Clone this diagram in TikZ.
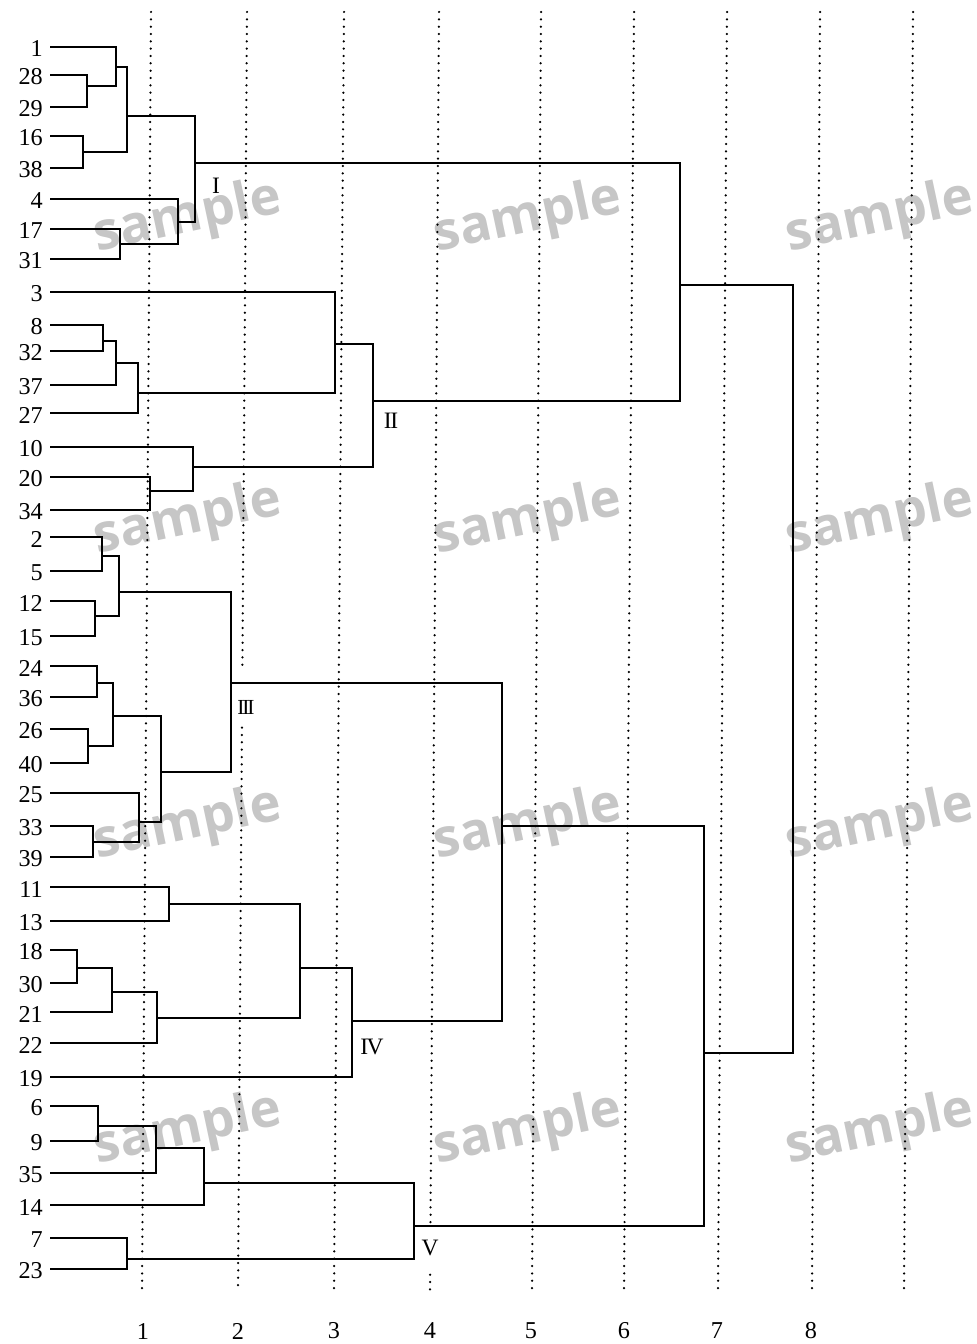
\documentclass[tikz,border=0pt]{standalone}
\usepackage{fontspec}
\usepackage{xcolor}
\usepackage{tikz}
\usetikzlibrary{calc}
\setmainfont{Liberation Serif}
\newfontfamily\wmfont{Open Sans}
\definecolor{wmGray}{HTML}{c6c6c6}

\begin{document}
\begin{tikzpicture}[
  x=0.254mm, y=-0.254mm,
  font=\fontsize{17.5}{21}\selectfont,
  leaf/.style={anchor=east, inner sep=0pt},
  link/.style={line width=1.35pt},
  grid/.style={line width=1.8pt, line cap=round, dash pattern=on 0pt off 5.3pt},
  clus/.style={inner sep=0pt, font=\fontsize{17}{20}\selectfont},
  axlbl/.style={inner sep=0pt},
  wm/.style={text=wmGray, font=\wmfont\bfseries\fontsize{38}{40}\selectfont, rotate=12, inner sep=0pt},
]
\useasboundingbox (0,0) rectangle (976,1344);
% watermark
\foreach \wy in {218,520,825,1130}
  \foreach \wx in {188,528,880}
    \node[wm] (wm\wx\wy) at (\wx,\wy) {sample};
% dotted scale lines (slightly skewed, as scanned)
\foreach \xt/\xb [count=\g] in {151/142,247/238,344/334,439/430,541/532,634/624,727/718,820/812,913/904} {
  \coordinate (gt\g) at (\xt,12);
  \coordinate (gb\g) at (\xb,1290);
}
\foreach \g in {1,3,5,6,7,8,9}
  \draw[grid] (gt\g) -- (gb\g);
\draw[grid] (gt2) -- ($(gt2)!0.516!(gb2)$) ($(gt2)!0.560!(gb2)$) -- (gb2);
\draw[grid] (gt4) -- ($(gt4)!0.947!(gb4)$) ($(gt4)!0.988!(gb4)$) -- (gb4);
\foreach \t/\ax in {1/143,2/238,3/334,4/430,5/531,6/624,7/717,8/811}
  \node[axlbl] (ax\t) at (\ax,1331) {\t};
% leaves
\foreach \lab/\ly in {1/46.7,28/75,29/106.7,16/136,38/168,4/199,17/229,31/259,
    3/292,8/325,32/351,37/385,27/413,10/447,20/477,34/510,
    2/537,5/571,12/601,15/636,24/666,36/697,26/729,40/763,25/793,33/826,39/857,
    11/887,13/921,18/950,30/983,21/1012,22/1043,19/1077,
    6/1106,9/1141,35/1173,14/1205,7/1238,23/1269} {
  \node[leaf] (n\lab) at (43,\ly+2) {\lab};
  \coordinate (l\lab) at (50,\ly);
}
% cluster I
\coordinate (m2829) at (87,86);
\coordinate (m1to29) at (116,67);
\coordinate (m1638) at (83,152);
\coordinate (m1to38) at (127,116);
\coordinate (m1731) at (120,244);
\coordinate (m4to31) at (178,222);
\coordinate (mI) at (195,163);
\draw[link] (l28) -| (m2829) |- (l29);
\draw[link] (l1) -| (m1to29) |- (m2829);
\draw[link] (l16) -| (m1638) |- (l38);
\draw[link] (m1to29) -| (m1to38) |- (m1638);
\draw[link] (l17) -| (m1731) |- (l31);
\draw[link] (l4) -| (m4to31) |- (m1731);
\draw[link] (m1to38) -| (mI) |- (m4to31);
% cluster II
\coordinate (m832) at (103,341);
\coordinate (m8to37) at (116,363);
\coordinate (m8to27) at (138,393);
\coordinate (m3to27) at (335,344);
\coordinate (m2034) at (150,491);
\coordinate (m10to34) at (193,467);
\coordinate (mII) at (373,401);
\draw[link] (l8) -| (m832) |- (l32);
\draw[link] (m832) -| (m8to37) |- (l37);
\draw[link] (m8to37) -| (m8to27) |- (l27);
\draw[link] (l3) -| (m3to27) |- (m8to27);
\draw[link] (l20) -| (m2034) |- (l34);
\draw[link] (l10) -| (m10to34) |- (m2034);
\draw[link] (m3to27) -| (mII) |- (m10to34);
\coordinate (mIandII) at (680,285);
\draw[link] (mI) -| (mIandII) |- (mII);
% cluster III
\coordinate (m25) at (102,556);
\coordinate (m1215) at (95,616);
\coordinate (m2to15) at (119,592);
\coordinate (m2436) at (97,683);
\coordinate (m2640) at (88,746);
\coordinate (m24to40) at (113,716);
\coordinate (m3339) at (93,842);
\coordinate (m25to39) at (139,822);
\coordinate (m24to39) at (161,772);
\coordinate (mIII) at (231,683);
\draw[link] (l2) -| (m25) |- (l5);
\draw[link] (l12) -| (m1215) |- (l15);
\draw[link] (m25) -| (m2to15) |- (m1215);
\draw[link] (l24) -| (m2436) |- (l36);
\draw[link] (l26) -| (m2640) |- (l40);
\draw[link] (m2436) -| (m24to40) |- (m2640);
\draw[link] (l33) -| (m3339) |- (l39);
\draw[link] (l25) -| (m25to39) |- (m3339);
\draw[link] (m24to40) -| (m24to39) |- (m25to39);
\draw[link] (m2to15) -| (mIII) |- (m24to39);
% cluster IV
\coordinate (m1113) at (169,904);
\coordinate (m1830) at (77,968);
\coordinate (m18to21) at (112,992);
\coordinate (m18to22) at (157,1018);
\coordinate (m11to22) at (300,968);
\coordinate (mIV) at (352,1021);
\draw[link] (l11) -| (m1113) |- (l13);
\draw[link] (l18) -| (m1830) |- (l30);
\draw[link] (m1830) -| (m18to21) |- (l21);
\draw[link] (m18to21) -| (m18to22) |- (l22);
\draw[link] (m1113) -| (m11to22) |- (m18to22);
\draw[link] (m11to22) -| (mIV) |- (l19);
\coordinate (mIIIandIV) at (502,826);
\draw[link] (mIII) -| (mIIIandIV) |- (mIV);
% cluster V
\coordinate (m69) at (98,1126);
\coordinate (m6to35) at (156,1148);
\coordinate (m6to14) at (204,1183);
\coordinate (m723) at (127,1259);
\coordinate (mV) at (414,1226);
\draw[link] (l6) -| (m69) |- (l9);
\draw[link] (m69) -| (m6to35) |- (l35);
\draw[link] (m6to35) -| (m6to14) |- (l14);
\draw[link] (l7) -| (m723) |- (l23);
\draw[link] (m6to14) -| (mV) |- (m723);
\coordinate (mIIItoV) at (704,1053);
\draw[link] (mIIIandIV) -| (mIIItoV) |- (mV);
% root
\coordinate (mroot) at (793,669);
\draw[link] (mIandII) -| (mroot) |- (mIIItoV);
% cluster labels
\node[clus] (cI) at (216,186) {I};
\node[clus] (cII) at (391,421) {I\kern-.06em I};
\node[clus, font=\fontsize{15.5}{18}\selectfont] (cIII) at (246,707) {I\kern-.1em I\kern-.1em I};
\node[clus] (cIV) at (372,1047) {I\kern-.06em V};
\node[clus] (cV) at (430,1248) {V};
\end{tikzpicture}
\end{document}
